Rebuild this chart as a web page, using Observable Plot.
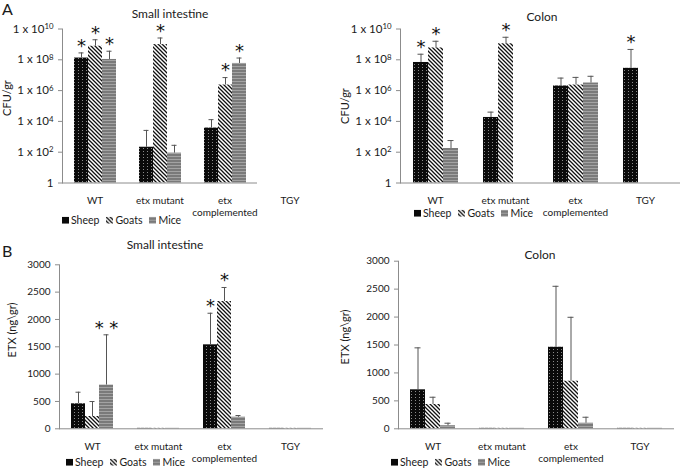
<!DOCTYPE html>
<html><head><meta charset="utf-8">
<script src="https://cdn.jsdelivr.net/npm/d3@7"></script>
<script src="https://cdn.jsdelivr.net/npm/@observablehq/plot@0.6"></script>
<style>
body{margin:0;background:#fff;font-family:Lato,"Open Sans",sans-serif;}
#chart{position:relative;width:680px;height:468px;overflow:hidden;background:#fff;color:#1a1a1a}
.abs{position:absolute;white-space:nowrap;line-height:1}
.title{font-size:12px;transform:translate(-50%,-50%)}
.ytitle{font-size:11px;transform:translate(-50%,-50%) rotate(-90deg)}
.letter{font-size:16px}
.legend{font-size:10.5px;display:flex;align-items:center;transform:translateY(-50%)}
.legend .item{display:inline-flex;align-items:center;margin-right:7px}
.legend svg{margin-right:2px}
</style></head>
<body>
<svg width="0" height="0" style="position:absolute">
  <defs>
    <pattern id="pat-sheep" patternUnits="userSpaceOnUse" width="4" height="3">
      <rect width="4" height="3" fill="#0a0a0a"/>
      <rect x="1" y="1" width="1" height="1" fill="#8a8a8a"/>
    </pattern>
    <pattern id="pat-goats" patternUnits="userSpaceOnUse" width="4" height="4">
      <rect width="4" height="4" fill="#fff"/>
      <path d="M0,0L4,4M-1,3L1,5M3,-1L5,1" stroke="#111" stroke-width="1.3"/>
    </pattern>
    <pattern id="pat-mice" patternUnits="userSpaceOnUse" width="4" height="3">
      <rect width="4" height="3" fill="#7a7a7a"/>
      <rect y="0" width="4" height="1" fill="#a3a3a3"/>
    </pattern>
  </defs>
</svg>
<div id="chart"></div>
<script>
// ---------- shared ----------
const categories = ["WT", "etx mutant", "etx complemented", "TGY"];
const categoryLabels = ["WT", "etx mutant", "etx\ncomplemented", "TGY"];
const species = ["Sheep", "Goats", "Mice"];

const cfuTicks = [1, 1e2, 1e4, 1e6, 1e8, 1e10];
const cfuTickLabels = ["1", "1 x 10²", "1 x 10⁴", "1 x 10⁶", "1 x 10⁸", "1 x 10¹⁰"];
const etxTicks = [0, 500, 1000, 1500, 2000, 2500, 3000];
const etxTickLabels = ["0", "500", "1000", "1500", "2000", "2500", "3000"];

// ---------- A: CFU/gr, small intestine ----------
const cfuSISheep = [1.3e8, 210, 3700, null];
const cfuSISheepErr = [2.8e8, 2600, 1.3e4, null];
const cfuSIGoats = [7.6e8, 9.7e8, 2.3e6, null];
const cfuSIGoatsErr = [2e9, 2.6e9, 7.0e6, null];
const cfuSIMice = [1.05e8, 87, 5.8e7, null];
const cfuSIMiceErr = [3.6e8, 280, 1.3e8, null];
const cfuSISheepStar = ["*", "", "", ""];
const cfuSIGoatsStar = ["*", "*", "*", ""];
const cfuSIMiceStar = ["*", "", "*", ""];

// ---------- A: CFU/gr, colon ----------
const cfuCoSheep = [6.7e7, 1.8e4, 2.0e6, 2.8e7];
const cfuCoSheepErr = [2.3e8, 4e4, 6.5e6, 4.7e8];
const cfuCoGoats = [5.9e8, 1.1e9, 2.3e6, null];
const cfuCoGoatsErr = [1.6e9, 2.9e9, 7.2e6, null];
const cfuCoMice = [174, null, 3.1e6, null];
const cfuCoMiceErr = [570, null, 8.5e6, null];
const cfuCoSheepStar = ["*", "", "", "*"];
const cfuCoGoatsStar = ["*", "*", "", ""];
const cfuCoMiceStar = ["", "", "", ""];

// ---------- B: ETX (ng\gr), small intestine ----------
const etxSISheep = [457, 8, 1536, 8];
const etxSISheepErr = [669, null, 2114, null];
const etxSIGoats = [225, 8, 2328, 8];
const etxSIGoatsErr = [499, null, 2585, null];
const etxSIMice = [800, 8, 212, 8];
const etxSIMiceErr = [1719, null, 243, null];
const etxSISheepStar = ["", "", "*", ""];
const etxSIGoatsStar = ["", "", "*", ""];
const etxSIMiceStar = ["* *", "", "", ""];

// ---------- B: ETX (ng\gr), colon ----------
const etxCoSheep = [698, 8, 1460, 8];
const etxCoSheepErr = [1449, null, 2551, null];
const etxCoGoats = [435, 8, 852, 8];
const etxCoGoatsErr = [565, null, 1996, null];
const etxCoMice = [55, 8, 100, 8];
const etxCoMiceErr = [100, null, 207, null];
const etxCoSheepStar = ["", "", "", ""];
const etxCoGoatsStar = ["", "", "", ""];
const etxCoMiceStar = ["", "", "", ""];

const patterns = {Sheep: "url(#pat-sheep)", Goats: "url(#pat-goats)", Mice: "url(#pat-mice)"};

function rowsOf(series) {
  const rows = [];
  categories.forEach((c, i) => {
    series.forEach(([sp, m, e, s]) => {
      rows.push({category: c, species: sp, mean: m[i], err: e[i], star: s[i]});
    });
  });
  return rows;
}

const panels = [
  {left: 0, top: 0, width: 340, height: 215, mt: 28.5, mb: 32.5, ml: 61, mr: 18,
   type: "log", domain: [1, 1e10], base: 1, ticks: cfuTicks, tickLabels: cfuTickLabels, tickFont: 11.5,
   rows: rowsOf([["Sheep", cfuSISheep, cfuSISheepErr, cfuSISheepStar],
                 ["Goats", cfuSIGoats, cfuSIGoatsErr, cfuSIGoatsStar],
                 ["Mice", cfuSIMice, cfuSIMiceErr, cfuSIMiceStar]])},
  {left: 340, top: 0, width: 340, height: 215, mt: 28.5, mb: 32.5, ml: 59, mr: 0,
   type: "log", domain: [1, 1e10], base: 1, ticks: cfuTicks, tickLabels: cfuTickLabels, tickFont: 11.5,
   rows: rowsOf([["Sheep", cfuCoSheep, cfuCoSheepErr, cfuCoSheepStar],
                 ["Goats", cfuCoGoats, cfuCoGoatsErr, cfuCoGoatsStar],
                 ["Mice", cfuCoMice, cfuCoMiceErr, cfuCoMiceStar]])},
  {left: 0, top: 240, width: 340, height: 220, mt: 24.3, mb: 31.7, ml: 58, mr: 17,
   type: "linear", domain: [0, 3000], base: 0, ticks: etxTicks, tickLabels: etxTickLabels, tickFont: 10,
   rows: rowsOf([["Sheep", etxSISheep, etxSISheepErr, etxSISheepStar],
                 ["Goats", etxSIGoats, etxSIGoatsErr, etxSIGoatsStar],
                 ["Mice", etxSIMice, etxSIMiceErr, etxSIMiceStar]])},
  {left: 340, top: 240, width: 340, height: 220, mt: 20.7, mb: 31.7, ml: 56, mr: 5,
   type: "linear", domain: [0, 3000], base: 0, ticks: etxTicks, tickLabels: etxTickLabels, tickFont: 10,
   rows: rowsOf([["Sheep", etxCoSheep, etxCoSheepErr, etxCoSheepStar],
                 ["Goats", etxCoGoats, etxCoGoatsErr, etxCoGoatsStar],
                 ["Mice", etxCoMice, etxCoMiceErr, etxCoMiceStar]])}
];

const chart = document.getElementById("chart");
const axisGray = "#8c8c8c";

for (const cfg of panels) {
  const bars = cfg.rows.filter(d => d.mean != null);
  const withErr = cfg.rows.filter(d => d.err != null && d.mean != null);
  const withStar = cfg.rows.filter(d => d.star);
  const svg = Plot.plot({
    width: cfg.width, height: cfg.height,
    marginLeft: cfg.ml, marginRight: cfg.mr, marginTop: cfg.mt, marginBottom: cfg.mb,
    style: {fontFamily: "Lato, 'Open Sans', sans-serif", fontSize: "10px", color: "#1a1a1a", background: "transparent", overflow: "visible"},
    fx: {domain: categories, padding: 0, label: null},
    x: {domain: species, paddingInner: 0, paddingOuter: 0.75, axis: null},
    y: {type: cfg.type, domain: cfg.domain, label: null},
    color: {type: "identity"},
    marks: [
      Plot.barY(bars, {fx: "category", x: "species", y1: cfg.base, y2: "mean", fill: d => patterns[d.species], insetLeft: 0, insetRight: 0}),
      Plot.ruleY([cfg.base], {stroke: axisGray}),
      Plot.ruleX(withErr, {fx: "category", x: "species", y1: "mean", y2: "err", stroke: "#555"}),
      Plot.tickY(withErr, {fx: "category", x: "species", y: "err", stroke: "#555", insetLeft: 4.5, insetRight: 4.5}),
      Plot.text(withStar, {fx: "category", x: "species", y: "err", text: "star", dy: -7, fontSize: 18, fill: "#111", fontFamily: "DejaVu Sans"}),
      Plot.axisY({ticks: cfg.ticks, tickFormat: d => cfg.tickLabels[cfg.ticks.indexOf(d)], tickSize: 4, tickPadding: 5, fontSize: cfg.tickFont, stroke: axisGray, label: null}),
      Plot.frame({anchor: "left", stroke: axisGray, facetAnchor: "left"}),
      Plot.axisFx({anchor: "bottom", tickSize: 0, tickPadding: 12, fontSize: 10, lineHeight: 1.25, label: null,
                   tickFormat: d => categoryLabels[categories.indexOf(d)]})
    ]
  });
  // turn the unicode superscripts into real raised tspans
  const sup = {"⁰":"0","¹":"1","²":"2","³":"3","⁴":"4","⁵":"5","⁶":"6","⁷":"7","⁸":"8","⁹":"9"};
  d3.select(svg).selectAll("text").each(function() {
    const t = this.textContent;
    const m = /^(1 x 10)([⁰¹²³⁴⁵⁶⁷⁸⁹]+)$/.exec(t);
    if (m && this.childElementCount === 0) {
      const digits = [...m[2]].map(c => sup[c]).join("");
      const el = d3.select(this);
      el.text(m[1]);
      el.append("tspan").attr("dy", "-0.45em").attr("font-size", "0.68em").text(digits);
    }
  });
  svg.style.position = "absolute";
  svg.style.left = cfg.left + "px";
  svg.style.top = cfg.top + "px";
  chart.appendChild(svg);
}

// ---------- text overlays ----------
function addText(cls, text, x, y) {
  const d = document.createElement("div");
  d.className = "abs " + cls;
  d.textContent = text;
  d.style.left = x + "px";
  d.style.top = y + "px";
  chart.appendChild(d);
}
addText("letter", "A", 2, 1);
addText("letter", "B", 2, 243);
addText("title", "Small intestine", 170, 14);
addText("title", "Colon", 542, 17);
addText("title", "Small intestine", 165, 245);
addText("title", "Colon", 540, 255);
addText("ytitle", "CFU/gr", 6, 98);
addText("ytitle", "CFU/gr", 344, 106);
addText("ytitle", "ETX (ng\\gr)", 11, 330);
addText("ytitle", "ETX (ng\\gr)", 344, 337);

function addLegend(x, y) {
  const d = document.createElement("div");
  d.className = "abs legend";
  d.style.left = x + "px";
  d.style.top = y + "px";
  species.forEach(sp => {
    const item = document.createElement("span");
    item.className = "item";
    const ns = "http://www.w3.org/2000/svg";
    const s = document.createElementNS(ns, "svg");
    s.setAttribute("width", "7"); s.setAttribute("height", "7");
    const r = document.createElementNS(ns, "rect");
    r.setAttribute("width", "7"); r.setAttribute("height", "7");
    r.setAttribute("fill", sp === "Sheep" ? "#0a0a0a" : patterns[sp]);
    s.appendChild(r);
    item.appendChild(s);
    item.appendChild(document.createTextNode(sp));
    d.appendChild(item);
  });
  chart.appendChild(d);
}
addLegend(62, 220);
addLegend(414, 213);
addLegend(66, 462);
addLegend(391, 462);
</script>
</body></html>
